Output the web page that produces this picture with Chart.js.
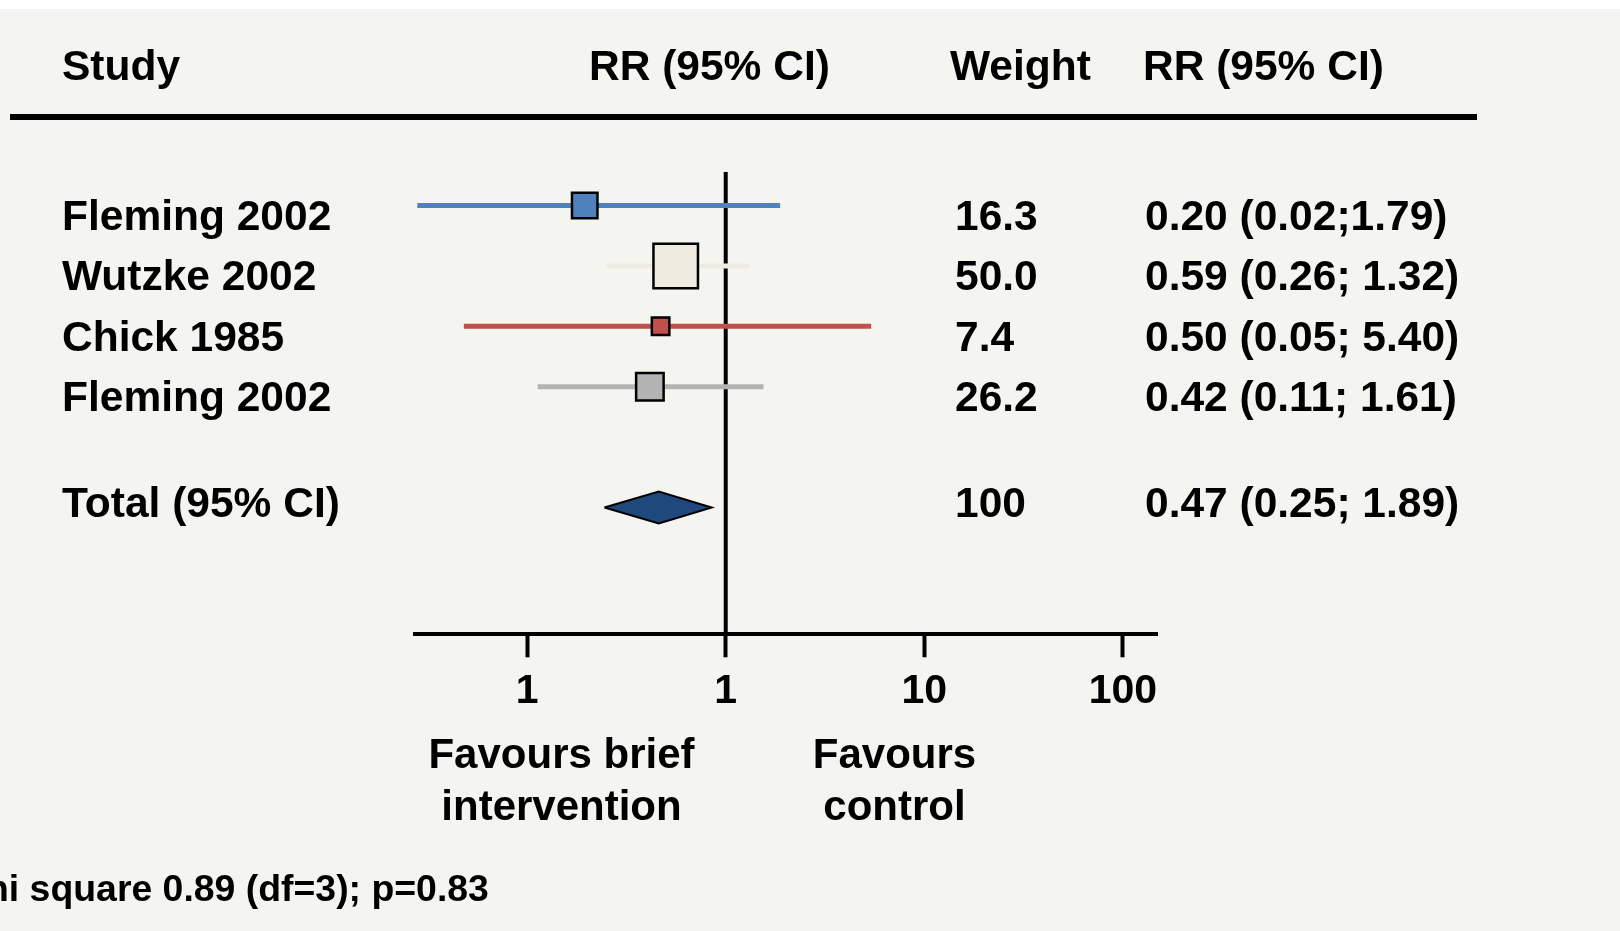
<!DOCTYPE html>
<html>
<head>
<meta charset="utf-8">
<title>Forest plot</title>
<script src="https://cdn.jsdelivr.net/npm/chart.js@4/dist/chart.umd.min.js"></script>
<style>
  html, body { margin: 0; padding: 0; background: #fff; }
  canvas { display: block; }
</style>
</head>
<body>
<canvas id="forest" width="1620" height="931"></canvas>
<script>
// Datos del forest plot
const studies = ["Fleming 2002", "Wutzke 2002", "Chick 1985", "Fleming 2002"];
const rr      = [0.195, 0.56, 0.47, 0.415];
const ciLow   = [0.028, 0.25, 0.048, 0.113];
const ciHigh  = [1.88, 1.31, 5.40, 1.55];
const weights = ["16.3", "50.0", "7.4", "26.2"];
const rrText  = ["0.20 (0.02;1.79)", "0.59 (0.26; 1.32)", "0.50 (0.05; 5.40)", "0.42 (0.11; 1.61)"];

const totalLabel  = "Total (95% CI)";
const totalRR     = 0.46;
const totalLow    = 0.245;
const totalHigh   = 0.85;
const totalWeight = "100";
const totalText   = "0.47 (0.25; 1.89)";

const tickValues = [0.1, 1, 10, 100];
const tickLabels = ["1", "1", "10", "100"];
const headers = ["Study", "RR (95% CI)", "Weight", "RR (95% CI)"];
const favours = [["Favours brief", "intervention"], ["Favours", "control"]];
const heterogeneity = "Chi square 0.89 (df=3); p=0.83";

// Estilos
const colors  = ["#4f81bd", "#eeece1", "#c0504d", "#b3b3b3"];
const boxSide = [28, 47, 20, 30];
const TOTAL_ROW = 5;
const FONT = "'Liberation Sans', Arial, Helvetica, sans-serif";

const ciSets = studies.map((s, i) => ({
  label: s,
  order: 2,
  showLine: true,
  data: [{ x: ciLow[i], y: i }, { x: ciHigh[i], y: i }],
  borderColor: colors[i],
  borderWidth: 5,
  borderCapStyle: "butt",
  pointRadius: 0
}));

const boxes = {
  label: "RR",
  order: 0,
  data: studies.map((s, i) => ({ x: rr[i], y: i })),
  pointStyle: "rect",
  pointRadius: boxSide.map(s => (s - 2.5) / Math.SQRT2),
  pointBackgroundColor: colors,
  pointBorderColor: "#000",
  pointBorderWidth: 2.5
};

const dh = 0.265; // media altura del rombo (filas)
const diamond = {
  label: totalLabel,
  order: 1,
  showLine: true,
  data: [
    { x: totalLow, y: TOTAL_ROW },
    { x: totalRR, y: TOTAL_ROW - dh },
    { x: totalHigh, y: TOTAL_ROW },
    { x: totalRR, y: TOTAL_ROW + dh },
    { x: totalLow, y: TOTAL_ROW }
  ],
  borderColor: "#000",
  borderWidth: 2,
  borderJoinStyle: "miter",
  backgroundColor: "#1f497d",
  fill: "shape",
  tension: 0,
  pointRadius: 0
};

const refLine = {
  label: "ref",
  order: 3,
  showLine: true,
  data: [{ x: 1, y: -0.56 }, { x: 1, y: 7.1 }],
  borderColor: "#000",
  borderWidth: 4,
  pointRadius: 0
};

// Textos, cabecera y fondo
const forestText = {
  id: "forestText",
  beforeDraw(chart) {
    const ctx = chart.ctx;
    ctx.save();
    ctx.fillStyle = "#fff";
    ctx.fillRect(0, 0, chart.width, chart.height);
    ctx.fillStyle = "#f4f5f1";
    ctx.fillRect(0, 9, chart.width, chart.height - 9);
    ctx.restore();
  },
  afterDraw(chart) {
    const ctx = chart.ctx;
    const y = chart.scales.y;
    ctx.save();
    ctx.fillStyle = "#000";
    ctx.textBaseline = "alphabetic";
    ctx.font = "bold 42.5px " + FONT;

    const cols = [62, 589, 950, 1143];
    headers.forEach((h, i) => ctx.fillText(h, cols[i], 80));

    ctx.strokeStyle = "#000";
    ctx.lineWidth = 6;
    ctx.beginPath();
    ctx.moveTo(10, 117);
    ctx.lineTo(1477, 117);
    ctx.stroke();

    studies.forEach((s, i) => {
      const by = y.getPixelForValue(i) + 24.5;
      ctx.fillText(s, 62, by);
      ctx.fillText(weights[i], 955, by);
      ctx.fillText(rrText[i], 1145, by);
    });
    const ty = y.getPixelForValue(TOTAL_ROW) + 9.5;
    ctx.fillText(totalLabel, 62, ty);
    ctx.fillText(totalWeight, 955, ty);
    ctx.fillText(totalText, 1145, ty);

    ctx.font = "bold 42px " + FONT;
    ctx.textAlign = "center";
    const favX = [561.5, 894.5];
    favours.forEach((lines, k) => {
      lines.forEach((t, j) => ctx.fillText(t, favX[k], 768 + j * 52));
    });

    ctx.textAlign = "left";
    ctx.font = "bold 37.4px " + FONT;
    ctx.fillText(heterogeneity, -41, 901);
    ctx.restore();
  }
};

new Chart(document.getElementById("forest"), {
  type: "scatter",
  data: { datasets: [boxes, diamond, ...ciSets, refLine] },
  options: {
    responsive: false,
    animation: false,
    events: [],
    layout: { padding: { left: 415, right: 463, top: 171.7, bottom: 216.7 } },
    plugins: { legend: { display: false }, tooltip: { enabled: false } },
    scales: {
      x: {
        type: "logarithmic",
        min: 0.02725,
        max: 148.5,
        afterBuildTicks: scale => { scale.ticks = tickValues.map(v => ({ value: v })); },
        afterFit: scale => { scale.height = 80; },
        border: { display: true, color: "#000", width: 4 },
        grid: { display: true, drawOnChartArea: false, drawTicks: true, tickLength: 23, tickWidth: 4, tickColor: "#000" },
        ticks: {
          autoSkip: false,
          maxRotation: 0,
          padding: 10,
          color: "#000",
          font: { family: FONT, size: 41, weight: "bold" },
          callback: (v, i) => tickLabels[i]
        }
      },
      y: {
        type: "linear",
        reverse: true,
        min: -0.56,
        max: 7.1,
        display: false
      }
    }
  },
  plugins: [forestText]
});
</script>
</body>
</html>
